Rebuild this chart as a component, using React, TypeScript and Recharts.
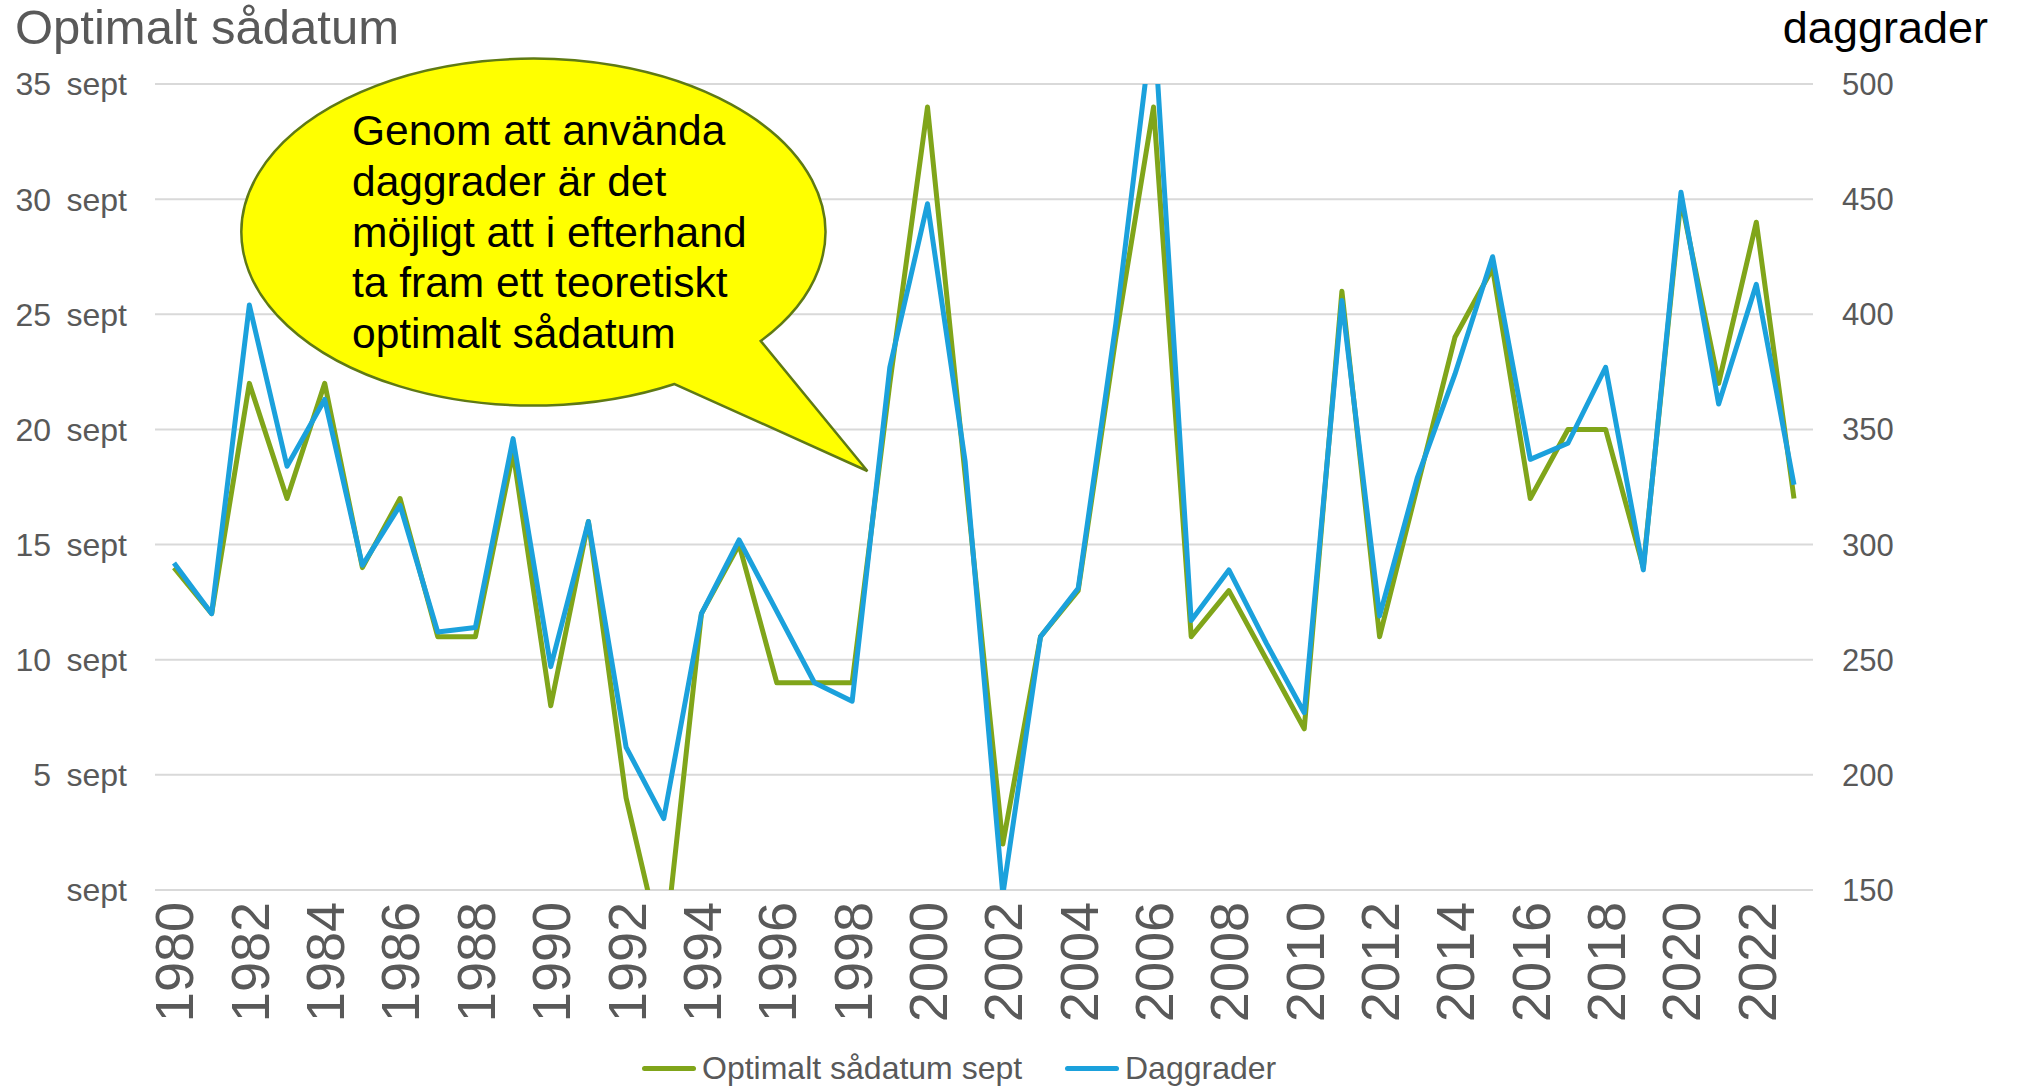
import { LineChart, Line, XAxis, YAxis, CartesianGrid, Legend } from 'recharts'

const years = [
  '1980', '1981', '1982', '1983', '1984', '1985', '1986', '1987', '1988', '1989',
  '1990', '1991', '1992', '1993', '1994', '1995', '1996', '1997', '1998', '1999',
  '2000', '2001', '2002', '2003', '2004', '2005', '2006', '2007', '2008', '2009',
  '2010', '2011', '2012', '2013', '2014', '2015', '2016', '2017', '2018', '2019',
  '2020', '2021', '2022', '2023',
]

// optimalt sådatum, dag i september
const sowingDay = [
  14, 12, 22, 17, 22, 14, 17, 11, 11, 19,
  8, 16, 4, -3, 12, 15, 9, 9, 9, 22,
  34, 18, 2, 11, 13, 24, 34, 11, 13, 10,
  7, 26, 11, 17.5, 24, 27, 17, 20, 20, 14,
  30, 22, 29, 17,
]

const degreeDays = [
  292, 270, 404, 334, 363, 291, 317, 262, 264, 346,
  247, 310, 212, 181, 270, 302, 271, 240, 232, 377,
  448, 336, 148, 260, 281, 396, 530, 267, 289, 257,
  227, 406, 269, 329, 374, 425, 337, 344, 377, 289,
  453, 361, 413, 326,
]

const leftTicks = [0, 5, 10, 15, 20, 25, 30, 35]
const rightTicks = [150, 200, 250, 300, 350, 400, 450, 500]

const bubbleLines = [
  'Genom att använda',
  'daggrader är det',
  'möjligt att i efterhand',
  'ta fram ett teoretiskt',
  'optimalt sådatum',
]

const GREEN = '#80a51a'
const BLUE = '#1ba1dc'
const GREY = '#595959'
const FONT = '"Liberation Sans", Arial, sans-serif'

const data = years.map((year, i) => ({
  year,
  sowing: sowingDay[i],
  daggrader: degreeDays[i],
}))

function LeftTick(props: any) {
  const { x, y, payload } = props
  return (
    <g>
      {payload.value !== 0 && (
        <text x={x - 76} y={y} dy="0.355em" textAnchor="end" fill={GREY} fontSize={32} fontFamily={FONT}>
          {payload.value}
        </text>
      )}
      <text x={x} y={y} dy="0.355em" textAnchor="end" fill={GREY} fontSize={32} fontFamily={FONT}>
        sept
      </text>
    </g>
  )
}

function RightTick(props: any) {
  const { x, y, payload } = props
  return (
    <text x={x} y={y} dy="0.355em" textAnchor="start" fill={GREY} fontSize={31} fontFamily={FONT}>
      {payload.value}
    </text>
  )
}

function YearTick(props: any) {
  const { x, y, payload } = props
  return (
    <text
      x={x}
      y={y}
      dy="0.36em"
      transform={`rotate(-90, ${x}, ${y})`}
      textAnchor="end"
      fill={GREY}
      fontSize={54}
      fontFamily={FONT}
    >
      {payload.value}
    </text>
  )
}

const legendItems = [
  { label: 'Optimalt sådatum sept', color: GREEN, left: 642 },
  { label: 'Daggrader', color: BLUE, left: 1065 },
]

function ChartLegend() {
  return (
    <div style={{ position: 'relative', height: 40, width: 2020 }}>
      {legendItems.map((item) => (
        <div
          key={item.label}
          style={{
            position: 'absolute',
            left: item.left,
            top: 0,
            height: 40,
            display: 'flex',
            alignItems: 'center',
          }}
        >
          <div style={{ width: 54, height: 5, borderRadius: 3, background: item.color }} />
          <span style={{ marginLeft: 6, fontSize: 32, color: GREY, fontFamily: FONT }}>{item.label}</span>
        </div>
      ))}
    </div>
  )
}

export default function App() {
  return (
    <div style={{ position: 'absolute', left: 0, top: 0, width: 2020, height: 1088, background: '#fff' }}>
      <LineChart width={2020} height={1088} data={data} margin={{ top: 84, right: 0, bottom: 0, left: 0 }}>
        <CartesianGrid vertical={false} stroke="#d9d9d9" strokeWidth={2} yAxisId="left" />
        <XAxis
          dataKey="year"
          interval={1}
          padding={{ left: 19, right: 19 }}
          axisLine={false}
          tickLine={false}
          tickSize={0}
          tickMargin={12}
          height={158}
          tick={YearTick}
        />
        <YAxis
          yAxisId="left"
          domain={[0, 35]}
          ticks={leftTicks}
          allowDataOverflow
          axisLine={false}
          tickLine={false}
          tickSize={0}
          tickMargin={28}
          width={155}
          tick={LeftTick}
        />
        <YAxis
          yAxisId="right"
          orientation="right"
          domain={[150, 500]}
          ticks={rightTicks}
          allowDataOverflow
          axisLine={false}
          tickLine={false}
          tickSize={0}
          tickMargin={29}
          width={207}
          tick={RightTick}
        />
        <Legend verticalAlign="bottom" content={ChartLegend} />
        <Line
          yAxisId="left"
          type="linear"
          dataKey="sowing"
          name="Optimalt sådatum sept"
          stroke={GREEN}
          strokeWidth={5}
          strokeLinejoin="round"
          dot={false}
          isAnimationActive={false}
        />
        <Line
          yAxisId="right"
          type="linear"
          dataKey="daggrader"
          name="Daggrader"
          stroke={BLUE}
          strokeWidth={5}
          strokeLinejoin="round"
          dot={false}
          isAnimationActive={false}
        />
      </LineChart>

      <svg width={2020} height={1088} style={{ position: 'absolute', left: 0, top: 0, pointerEvents: 'none' }}>
        <text x={15} y={44} fontSize={49} fill={GREY} fontFamily={FONT}>
          Optimalt sådatum
        </text>
        <text x={1988} y={43} fontSize={45} fill="#000" textAnchor="end" fontFamily={FONT}>
          daggrader
        </text>
        <path
          d="M 760.7 341 L 867.4 471 L 674.5 384 A 292 173.5 0 1 1 760.7 341 Z"
          fill="#ffff00"
          stroke="#5f7a14"
          strokeWidth={2.5}
          strokeLinejoin="miter"
        />
        {bubbleLines.map((line, i) => (
          <text key={line} x={352} y={145 + i * 50.75} fontSize={42.5} fill="#000" fontFamily={FONT}>
            {line}
          </text>
        ))}
      </svg>
    </div>
  )
}
